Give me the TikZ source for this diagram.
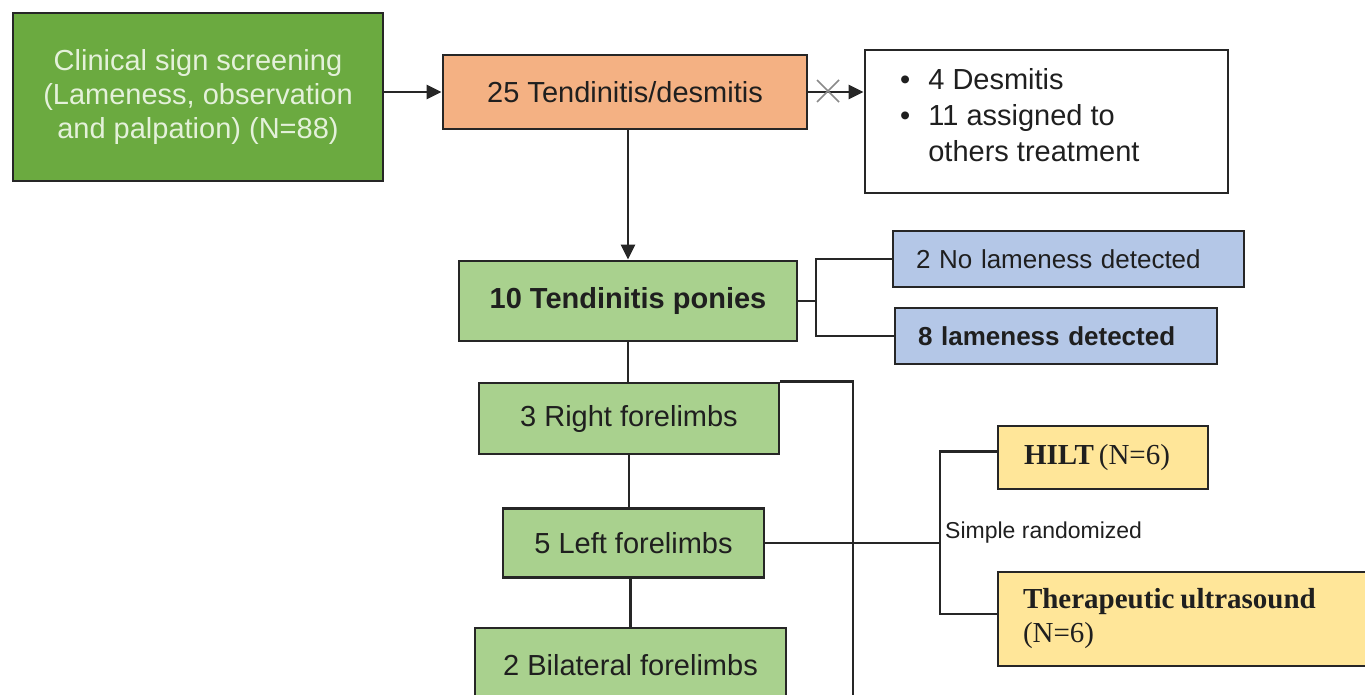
\documentclass[tikz,border=0pt]{standalone}
\usepackage{fontspec}
\setmainfont{Liberation Sans}
\newfontfamily\serifbox{Liberation Serif}
\usetikzlibrary{arrows.meta}
\definecolor{greenA}{HTML}{6BAA40}
\definecolor{greenB}{HTML}{A9D18E}
\definecolor{orangeA}{HTML}{F4B183}
\definecolor{blueA}{HTML}{B4C7E7}
\definecolor{yellowA}{HTML}{FFE699}
\definecolor{linec}{HTML}{262626}
\definecolor{textc}{HTML}{1F1F1F}
\definecolor{lighttext}{HTML}{E4F1DA}
\definecolor{crossc}{HTML}{8A8A8A}
\begin{document}
\begin{tikzpicture}[x=1pt,y=-1pt,
  box/.style={draw=linec, line width=2.8pt, inner sep=0pt, text=textc,
    font=\fontsize{29}{34}\selectfont},
  leftbox/.style={box, align=left},
  conn/.style={draw=linec, line width=2.8pt},
  arr/.style={conn, -{Triangle[length=15pt,width=14pt]}},
  labeltext/.style={text=textc, inner sep=0pt, font=\fontsize{23}{27}\selectfont}]
\useasboundingbox (0,0) rectangle (1365,695);

% top row
\node[box, fill=greenA, text=lighttext, minimum width=370pt, minimum height=168pt, align=center]
  (screen) at (198,97) {Clinical sign screening\\(Lameness, observation\\and palpation) (N=88)};
\node[box, fill=orangeA, text=textc, minimum width=364pt, minimum height=74pt]
  (tend) at (625,92) {25 Tendinitis/desmitis};
\node[box, fill=white, minimum width=363pt, minimum height=143pt]
  (excl) at (1046.5,121.5) {};
\node[anchor=west, inner sep=0pt, text=textc, font=\fontsize{29}{36}\selectfont]
  (exclT) at (900,118) {\begin{tabular}{@{}l@{\hspace{18pt}}l@{}}
  \textbullet & 4 Desmitis\\
  \textbullet & 11 assigned to\\
   & others treatment
  \end{tabular}};

\draw[arr] (screen.east |- tend.west) -- (tend.west);
\draw[arr] (tend.east) -- (tend.east -| excl.west);
\coordinate (xm) at (828,91);
\draw[crossc, line width=1.5pt] (xm) +(-11,-11) -- +(11,11);
\draw[crossc, line width=1.5pt] (xm) +(-11,11) -- +(11,-11);

% ponies
\node[box, fill=greenB, minimum width=338pt, minimum height=80pt, font=\fontsize{29}{34}\selectfont\bfseries]
  (ponies) at (628,301) {10 Tendinitis ponies};
\draw[arr] (ponies.north |- tend.south) -- (ponies.north);

\node[leftbox, fill=blueA, minimum width=351pt, minimum height=56pt, inner xsep=23pt, text width=305pt,
  font=\fontsize{26}{30}\selectfont]
  (nol) at (1068.5,259) {2 No lameness detected};
\node[leftbox, fill=blueA, minimum width=322pt, minimum height=56pt, inner xsep=23pt, text width=276pt,
  font=\fontsize{26}{30}\selectfont\bfseries]
  (lam) at (1056,336) {8 lameness detected};
\coordinate (b1) at (816,301);
\draw[conn] (ponies.east) -- (b1);
\draw[conn] (nol.west) -| (b1) |- (lam.west);

% forelimbs
\node[box, fill=greenB, minimum width=300pt, minimum height=71pt]
  (rf) at (629,418.5) {3 Right forelimbs};
\node[box, fill=greenB, minimum width=261pt, minimum height=69pt]
  (lf) at (633.5,543) {5 Left forelimbs};
\node[box, fill=greenB, minimum width=311pt, minimum height=74pt]
  (bf) at (630.5,665) {2 Bilateral forelimbs};
\draw[conn] (ponies.south) -- (ponies.south |- rf.north);
\draw[conn] (rf.south) -- (rf.south |- lf.north);
\draw[conn] (bf.north) -- (bf.north |- lf.south);
\coordinate (rbot) at (853,700);
\draw[conn] (rf.north east) -| (rbot);

% randomisation
\coordinate (rz) at (940,543);
\draw[conn] (lf.east) -- (rz);
\node[leftbox, fill=yellowA, minimum width=210pt, minimum height=63pt, inner xsep=26pt, text width=158pt,
  font=\fontsize{29}{34}\serifbox]
  (hilt) at (1103,457.5) {\textbf{HILT}\hspace{5pt}(N=6)};
\node[leftbox, fill=yellowA, minimum width=382pt, minimum height=94pt, inner xsep=25pt, text width=332pt,
  font=\fontsize{29}{34}\serifbox]
  (thera) at (1189,619) {\textbf{Therapeutic\hspace{6pt}ultrasound}\\(N=6)};
\draw[conn] ([yshift=6pt]hilt.west) -| (rz) |- ([yshift=5pt]thera.west);
\node[labeltext, anchor=west] (simp) at (945,533) {Simple randomized};
\end{tikzpicture}
\end{document}
